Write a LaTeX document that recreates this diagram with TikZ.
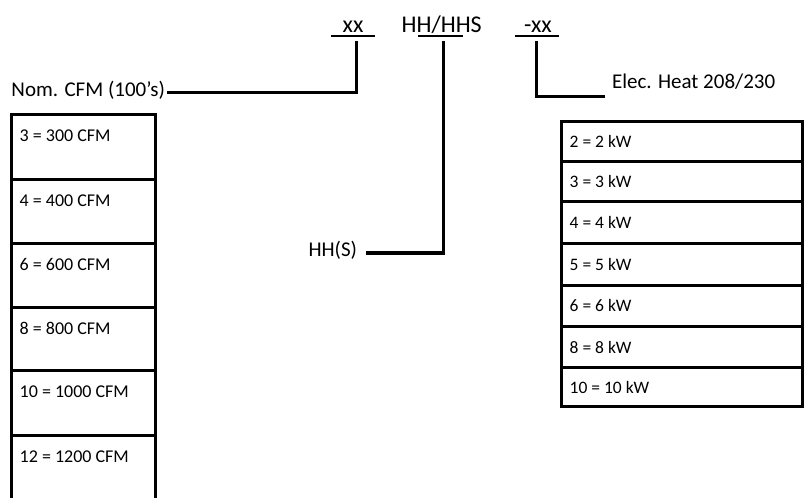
\documentclass[tikz,border=0pt]{standalone}
\usepackage{fontspec}
\setmainfont{Carlito}
\usetikzlibrary{calc}
\tikzset{
  lbl/.style={inner sep=0pt, outer sep=0pt, font=\fontsize{21}{25}\selectfont, anchor=base west},
  code/.style={inner sep=0pt, outer sep=0pt, font=\fontsize{24}{28}\selectfont, anchor=base},
  conn/.style={line width=3.2pt, line join=miter},
  uline/.style={line width=2pt},
  cell/.style={draw, line width=3pt, inner sep=0pt, outer sep=0pt, anchor=north west},
  celltxt/.style={inner sep=0pt, font=\fontsize{18}{22}\selectfont, anchor=base west},
  kwtxt/.style={inner sep=0pt, font=\fontsize{17.5}{21}\selectfont, anchor=west},
}
\begin{document}
\begin{tikzpicture}[x=1pt,y=-1pt]
\useasboundingbox (0,0) rectangle (809,498);

% model code
\node[code] (cxx) at (353,32.3) {xx};
\node[code] (chh) at (441.7,32.3) {HH/HHS};
\node[code] (cel) at (538,32.3) {-xx};
\coordinate (u1a) at (331,35.7); \coordinate (u1b) at (375,35.7);
\coordinate (u2a) at (418,35.7); \coordinate (u2b) at (463,35.7);
\coordinate (u3a) at (515,35.7); \coordinate (u3b) at (559,35.7);
\draw[uline] (u1a) -- (u1b);
\draw[uline] (u2a) -- (u2b);
\draw[uline] (u3a) -- (u3b);

% labels
\node[lbl] (nom) at (11.5,96) {Nom. CFM (100’s)};
\node[lbl] (hhs) at (308.5,256.7) {HH(S)};
\node[lbl] (elec) at (612,88) {Elec. Heat 208/230};

% connectors
\coordinate (d1) at (356.7,41);   \coordinate (e1) at (166.7,92.7);
\coordinate (d2) at (443.3,41);   \coordinate (e2) at (366,253);
\coordinate (d3) at (536.7,41);   \coordinate (e3) at (605,96.7);
\draw[conn] (d1) |- (e1);
\draw[conn] (d2) |- (e2);
\draw[conn] (d3) |- (e3);

% left table
\node[cell, minimum width=144pt, minimum height=65.3pt] (L1) at (11.7,114) {};
\node[cell, minimum width=144pt, minimum height=64pt]   (L2) at (11.7,179.3) {};
\node[cell, minimum width=144pt, minimum height=64pt]   (L3) at (11.7,243.3) {};
\node[cell, minimum width=144pt, minimum height=62.7pt] (L4) at (11.7,307.3) {};
\node[cell, minimum width=144pt, minimum height=65pt]   (L5) at (11.7,370) {};
\node[cell, minimum width=144pt, minimum height=68pt]   (L6) at (11.7,435) {};
\node[celltxt] (t1) at ($(L1.north west)+(7.8,27.5)$) {3 = 300 CFM};
\node[celltxt] (t2) at ($(L2.north west)+(7.8,27.5)$) {4 = 400 CFM};
\node[celltxt] (t3) at ($(L3.north west)+(7.8,27.5)$) {6 = 600 CFM};
\node[celltxt] (t4) at ($(L4.north west)+(7.8,27.5)$) {8 = 800 CFM};
\node[celltxt] (t5) at ($(L5.north west)+(7.8,27.5)$) {10 = 1000 CFM};
\node[celltxt] (t6) at ($(L6.north west)+(7.8,27.5)$) {12 = 1200 CFM};

% right table
\node[cell, minimum width=240.8pt, minimum height=39.3pt] (R1) at (561.7,121.7) {};
\node[cell, minimum width=240.8pt, minimum height=40.7pt] (R2) at (561.7,161) {};
\node[cell, minimum width=240.8pt, minimum height=41.6pt] (R3) at (561.7,201.7) {};
\node[cell, minimum width=240.8pt, minimum height=41.7pt] (R4) at (561.7,243.3) {};
\node[cell, minimum width=240.8pt, minimum height=41.7pt] (R5) at (561.7,285) {};
\node[cell, minimum width=240.8pt, minimum height=40.6pt] (R6) at (561.7,326.7) {};
\node[cell, minimum width=240.8pt, minimum height=39.4pt] (R7) at (561.7,367.3) {};
\node[kwtxt] (k1) at ($(R1.west)+(7.8,0)$) {2 = 2 kW};
\node[kwtxt] (k2) at ($(R2.west)+(7.8,0)$) {3 = 3 kW};
\node[kwtxt] (k3) at ($(R3.west)+(7.8,0)$) {4 = 4 kW};
\node[kwtxt] (k4) at ($(R4.west)+(7.8,0)$) {5 = 5 kW};
\node[kwtxt] (k5) at ($(R5.west)+(7.8,0)$) {6 = 6 kW};
\node[kwtxt] (k6) at ($(R6.west)+(7.8,0)$) {8 = 8 kW};
\node[kwtxt] (k7) at ($(R7.west)+(7.8,0)$) {10 = 10 kW};
\end{tikzpicture}
\end{document}
